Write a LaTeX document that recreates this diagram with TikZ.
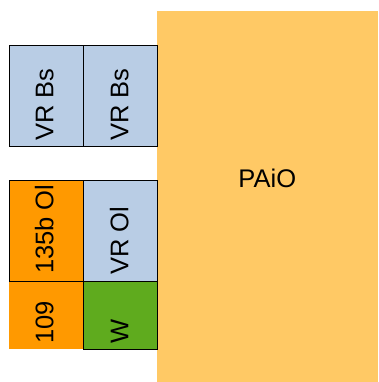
\documentclass[tikz,border=0pt]{standalone}
\usepackage{fontspec}
\setmainfont{Liberation Sans}
\definecolor{paio}{HTML}{FFC965}
\definecolor{vrblue}{HTML}{B9CDE5}
\definecolor{strongor}{HTML}{FF9900}
\definecolor{wgreen}{HTML}{5FAB1E}
\tikzset{
  cell/.style={draw=black, line width=0.9pt},
  vlabel/.style={rotate=90, anchor=base west, inner sep=0pt, font=\fontsize{25.5}{30}\selectfont},
  hlabel/.style={anchor=base, inner sep=0pt, font=\fontsize{25.5}{30}\selectfont}
}
\begin{document}
\begin{tikzpicture}[x=1pt,y=1pt]
\useasboundingbox (0,0) rectangle (378,382);
% big PAiO block
\fill[paio] (157.3,0) rectangle (378,371);
\node[hlabel] (paio) at (267.3,194) {PAiO};
% top pair
\fill[vrblue] (9.3,236) rectangle (157.7,337);
\draw[cell] (9.3,236) rectangle (83.3,337);
\draw[cell] (83.3,236) rectangle (157.7,337);
\node[vlabel] (vrbs1) at (53.3,241) {VR Bs};
\node[vlabel] (vrbs2) at (128.3,241) {VR Bs};
% lower group
\fill[strongor] (9.3,33) rectangle (83.3,201.7);
\fill[vrblue] (83.3,100.7) rectangle (157.7,201.7);
\fill[wgreen] (83.3,33) rectangle (157.7,100.7);
\draw[cell] (9.3,100.7) rectangle (83.3,201.7);
\draw[cell] (83.3,100.7) rectangle (157.7,201.7);
\draw[cell] (83.3,33) rectangle (157.7,100.7);
\node[vlabel] (ol135) at (53.3,108) {135b Ol};
\node[vlabel] (vrol) at (128.3,107) {VR Ol};
\node[vlabel] (n109) at (53.3,38) {109};
\node[vlabel] (w) at (128.3,38.7) {W};
\end{tikzpicture}
\end{document}
